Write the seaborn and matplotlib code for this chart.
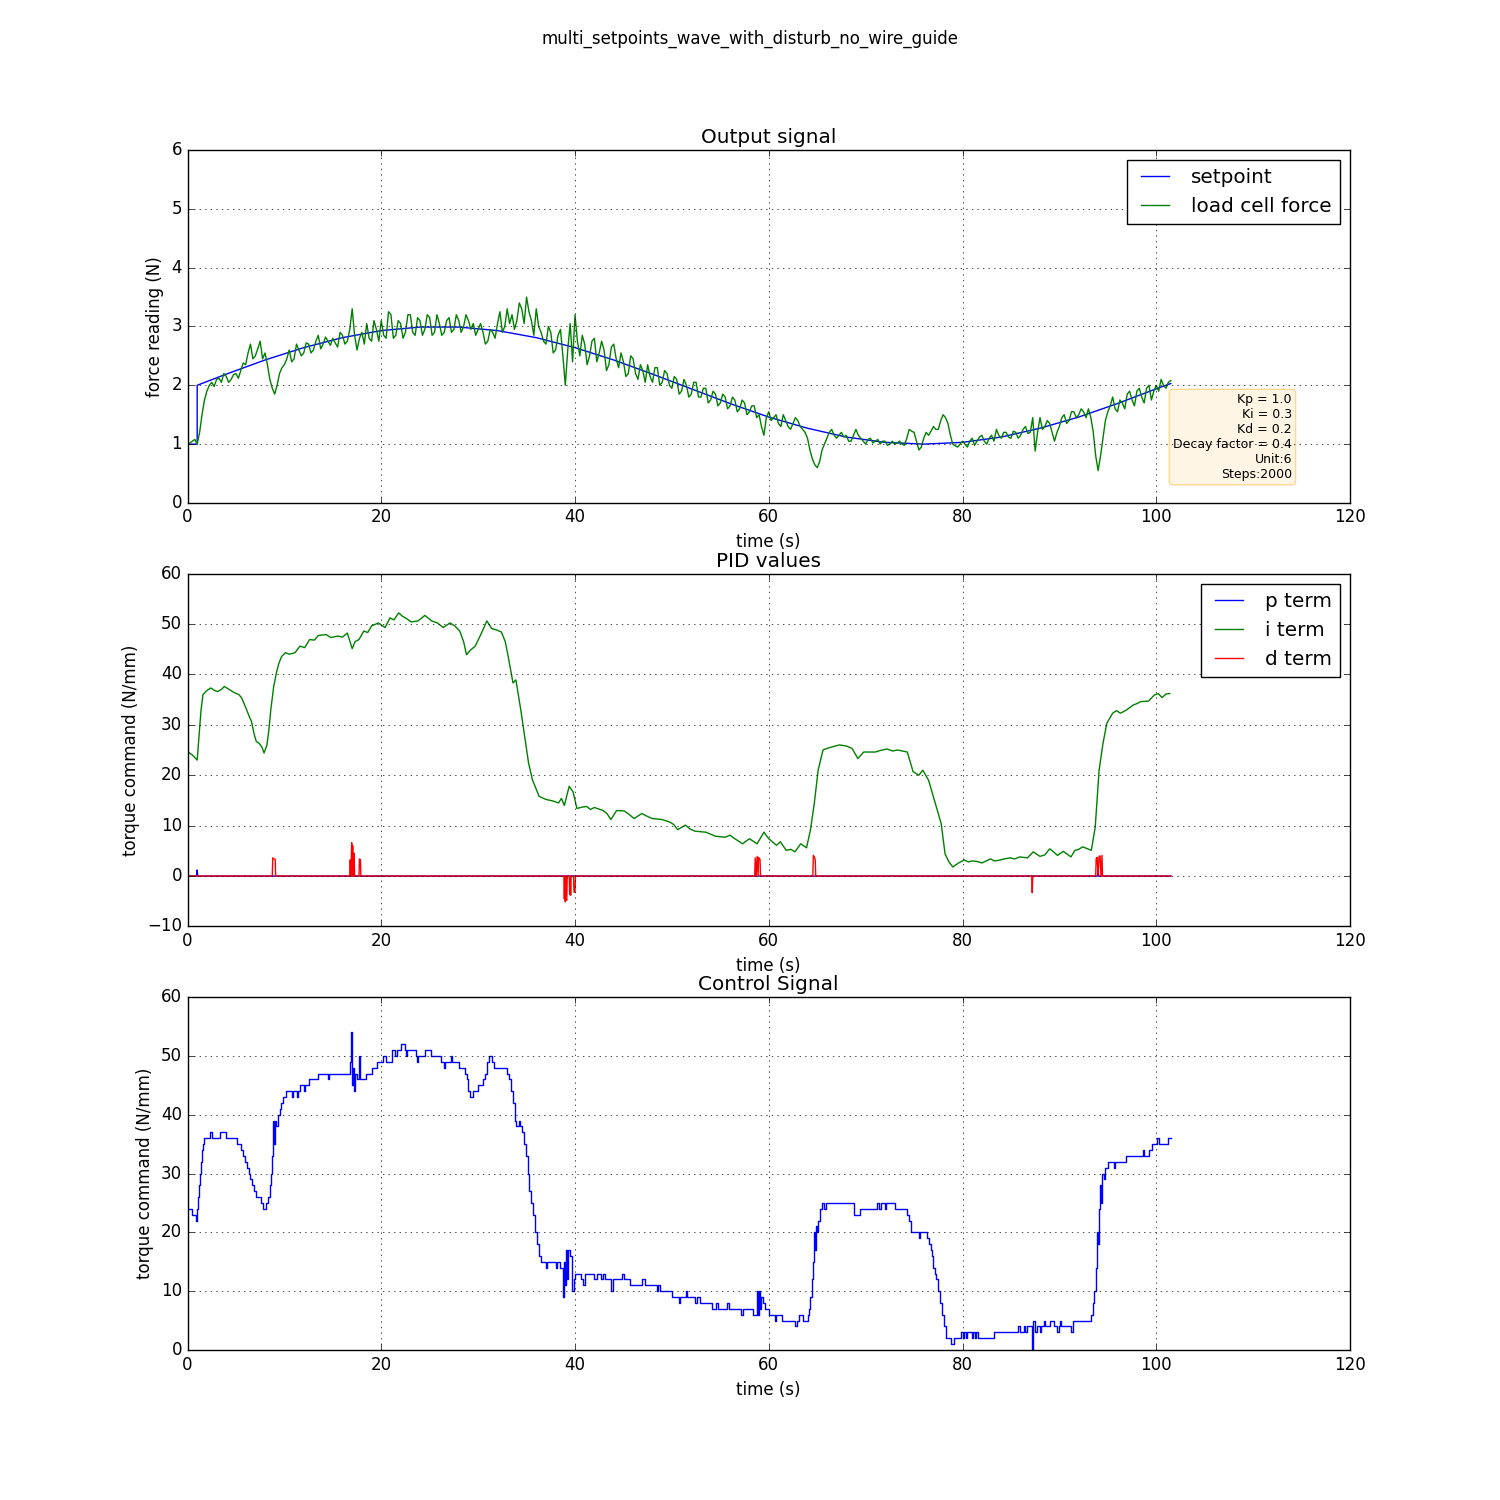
import numpy as np
import matplotlib
matplotlib.use("Agg")
import matplotlib.pyplot as plt
import seaborn as sns

# ---- data ----
# setpoint (N): (time, value)
setpoint_time = [0.0, 1.0, 1.0, 4, 8, 12, 16, 20, 24, 28, 32, 36, 40, 44, 48, 52,
                 56, 60, 64, 68, 72, 76, 80, 84, 88, 92, 96, 100, 101.5]
setpoint_vals = [1.0, 1.0, 2.0, 2.19, 2.43, 2.64, 2.81, 2.93, 2.99, 2.99, 2.93, 2.81,
                 2.64, 2.43, 2.19, 1.94, 1.69, 1.46, 1.27, 1.12, 1.03, 1.00, 1.03,
                 1.12, 1.27, 1.46, 1.69, 1.94, 2.03]

# load cell force (N), sampled every 0.25 s from t = 0 (one row = 5 s)
force_step = 0.25
load_force = [
    1.0, 1.02, 1.05, 1.08, 1.0, 1.2, 1.5, 1.75, 1.9, 2.0, 2.05, 1.98, 2.1, 2.12, 2.05, 2.2, 2.15, 2.05, 2.1, 2.18,
    2.2, 2.12, 2.25, 2.38, 2.35, 2.55, 2.7, 2.45, 2.5, 2.62, 2.75, 2.45, 2.55, 2.35, 2.1, 1.95, 1.85, 2.0, 2.2, 2.3,
    2.35, 2.45, 2.6, 2.4, 2.45, 2.7, 2.6, 2.5, 2.55, 2.72, 2.7, 2.55, 2.6, 2.75, 2.85, 2.62, 2.7, 2.82, 2.75, 2.68,
    2.8, 2.72, 2.65, 2.9, 2.85, 2.7, 2.75, 2.95, 3.3, 2.85, 2.6, 2.8, 2.9, 2.7, 3.05, 2.8, 2.75, 3.1, 2.95, 2.75,
    3.1, 2.85, 2.8, 3.25, 3.2, 2.8, 2.85, 3.1, 3.05, 2.8, 2.9, 3.2, 3.2, 2.9, 2.85, 3.15, 3.1, 2.85, 2.95, 3.2,
    3.15, 2.85, 2.9, 3.2, 3.05, 2.85, 2.9, 3.1, 3.15, 2.9, 2.95, 3.2, 3.1, 2.9, 3.0, 3.2, 3.1, 2.95, 3.05, 2.85,
    2.95, 3.05, 2.9, 2.7, 2.75, 2.95, 2.9, 2.8, 3.05, 3.25, 2.9, 3.0, 3.3, 3.05, 3.2, 2.95, 3.1, 3.4, 3.3, 3.05,
    3.5, 3.25, 3.1, 2.85, 3.3, 3.0, 2.9, 2.75, 2.7, 3.0, 2.9, 2.55, 2.6, 2.85, 2.95, 2.5, 2.0, 2.6, 3.05, 2.4,
    3.2, 2.75, 2.5, 2.85, 2.7, 2.35, 2.5, 2.75, 2.8, 2.4, 2.55, 2.75, 2.6, 2.25, 2.35, 2.65, 2.7, 2.45, 2.3, 2.55,
    2.4, 2.15, 2.2, 2.5, 2.45, 2.2, 2.1, 2.35, 2.25, 2.05, 2.35, 2.15, 2.05, 2.3, 2.3, 2.0, 2.05, 2.25, 2.2, 2.0,
    1.95, 2.15, 2.1, 1.85, 1.9, 2.1, 2.0, 1.8, 1.85, 2.05, 2.05, 1.8, 1.8, 1.95, 1.95, 1.7, 1.75, 1.9, 1.85, 1.65,
    1.7, 1.85, 1.8, 1.6, 1.65, 1.8, 1.75, 1.55, 1.6, 1.75, 1.7, 1.5, 1.55, 1.65, 1.65, 1.45, 1.5, 1.3, 1.15, 1.45,
    1.55, 1.4, 1.45, 1.5, 1.35, 1.3, 1.5, 1.4, 1.3, 1.25, 1.35, 1.45, 1.4, 1.3, 1.25, 1.2, 1.1, 0.9, 0.75, 0.65,
    0.6, 0.7, 0.9, 1.0, 1.1, 1.2, 1.25, 1.15, 1.1, 1.15, 1.2, 1.12, 1.15, 1.05, 1.05, 1.15, 1.25, 1.15, 1.1, 1.05,
    1.0, 1.08, 1.1, 1.02, 1.05, 1.08, 1.0, 1.05, 1.05, 0.98, 1.0, 1.05, 1.0, 1.02, 1.05, 1.0, 0.98, 1.1, 1.25, 1.22,
    1.2, 1.05, 0.9, 0.95, 1.1, 1.2, 1.15, 1.22, 1.3, 1.25, 1.25, 1.4, 1.5, 1.45, 1.35, 1.15, 1.0, 0.97, 0.95, 1.0,
    1.05, 1.0, 0.95, 1.05, 1.1, 0.98, 1.05, 1.12, 1.15, 1.05, 1.0, 1.1, 1.15, 1.05, 1.25, 1.15, 1.1, 1.2, 1.2, 1.12,
    1.1, 1.22, 1.2, 1.1, 1.15, 1.25, 1.3, 1.18, 1.2, 1.45, 0.88, 1.2, 1.45, 1.25, 1.3, 1.4, 1.35, 1.2, 1.05, 1.2,
    1.3, 1.45, 1.5, 1.35, 1.4, 1.55, 1.55, 1.45, 1.5, 1.6, 1.55, 1.45, 1.6, 1.45, 1.2, 0.8, 0.55, 0.8, 1.1, 1.4,
    1.55, 1.65, 1.8, 1.6, 1.55, 1.75, 1.7, 1.6, 1.85, 1.9, 1.75, 1.65, 1.9, 1.95, 1.8, 1.7, 1.95, 2.0, 1.75, 1.9,
    2.0, 1.9, 2.1, 2.0, 1.95, 2.05, 2.08,
]

# PID terms: (time, value)
p_term_pts = [(0.0, 0), (0.95, 0), (1.0, 1.2), (1.05, 0), (93.95, 0), (94.0, 1.1),
              (94.05, 0), (101.5, 0)]

i_term_pts = [
    (0.0, 24.7), (0.5, 24.0), (1.0, 23.0), (1.2, 28), (1.4, 33), (1.6, 36), (2.0, 36.8),
    (2.4, 37.3), (2.8, 36.8), (3.1, 36.6), (3.5, 37.0), (3.8, 37.6), (4.3, 37.0),
    (4.9, 36.3), (5.3, 36.0), (5.6, 35.3), (6.1, 33), (6.4, 31.5), (6.6, 30.7),
    (6.9, 28.0), (7.1, 26.7), (7.4, 26.3), (7.7, 25.5), (7.9, 24.4), (8.2, 26.0),
    (8.4, 29), (8.6, 33), (8.9, 37.6), (9.2, 40.5), (9.4, 42), (9.7, 43.5), (10.1, 44.3),
    (10.5, 44.0), (11.1, 44.3), (11.6, 45.6), (12.1, 45.3), (12.6, 46.9), (13.1, 46.8),
    (13.5, 47.7), (14.3, 47.9), (14.8, 47.3), (15.5, 47.6), (16.0, 47.4), (16.5, 48.2),
    (17.0, 45.1), (17.3, 46.5), (17.7, 46.9), (18.2, 48.6), (18.6, 48.3), (19.0, 49.6),
    (19.7, 50.2), (20.0, 49.8), (20.4, 49.3), (20.9, 51.2), (21.3, 50.8), (21.8, 52.2),
    (22.2, 51.5), (22.5, 51.2), (23.1, 50.4), (23.8, 50.6), (24.5, 51.7), (25.2, 50.6),
    (25.8, 50.2), (26.4, 49.3), (27.1, 50.2), (27.6, 49.6), (28.1, 48.6), (28.5, 46.5),
    (28.8, 43.9), (29.2, 44.8), (29.7, 45.6), (30.3, 48.0), (30.9, 50.6), (31.4, 49.1),
    (31.9, 48.8), (32.4, 48.4), (32.8, 46.5), (33.1, 43.6), (33.6, 38.3), (33.9, 38.9),
    (34.4, 33), (34.9, 26.4), (35.2, 22.5), (35.6, 19.1), (36.3, 15.8), (37.0, 15.2),
    (37.7, 14.9), (38.3, 14.5), (38.6, 15.4), (38.9, 14.0), (39.4, 17.8), (39.8, 16.7),
    (40.2, 13.4), (40.8, 13.7), (41.2, 13.8), (41.6, 13.2), (42.0, 13.6), (42.9, 13.0),
    (43.3, 12.4), (43.7, 11.2), (44.3, 13.0), (45.1, 12.9), (45.6, 12.2), (46.1, 11.4),
    (46.9, 12.4), (47.5, 11.8), (48.0, 11.4), (49.0, 11.2), (49.8, 10.7), (50.2, 10.2),
    (50.6, 9.2), (51.4, 10.1), (51.9, 9.3), (52.4, 8.9), (53.5, 8.7), (54.0, 8.3),
    (54.5, 7.9), (55.5, 7.7), (56.0, 8.1), (56.5, 7.4), (57.3, 6.4), (58.0, 7.4),
    (58.8, 6.4), (59.5, 8.7), (60.0, 7.4), (60.8, 6.1), (61.2, 6.8), (61.8, 5.1),
    (62.3, 5.3), (62.7, 4.8), (63.3, 6.4), (63.9, 5.6), (64.3, 9.1), (64.7, 14.4),
    (65.1, 21.0), (65.6, 25.0), (66.0, 25.3), (66.5, 25.6), (67.3, 26.0), (68.0, 25.8),
    (68.6, 25.3), (69.2, 23.3), (69.8, 24.6), (71.0, 24.6), (71.5, 24.9), (72.2, 25.2),
    (72.8, 24.8), (73.3, 25.0), (74.3, 24.6), (74.9, 20.7), (75.5, 20.0), (75.9, 21.0),
    (76.5, 19.0), (77.1, 15.0), (77.8, 10.4), (78.2, 4.4), (78.6, 2.8), (79.0, 1.8),
    (79.6, 2.6), (80.2, 3.2), (80.6, 2.8), (81.0, 3.0), (81.5, 2.9), (82.0, 2.6),
    (82.9, 3.4), (83.3, 3.0), (83.7, 3.1), (84.3, 3.4), (84.9, 3.6), (85.4, 3.4),
    (85.9, 3.8), (86.7, 3.6), (87.3, 4.8), (88.0, 3.9), (88.5, 4.2), (89.0, 5.4),
    (89.4, 4.8), (89.8, 4.1), (90.4, 4.9), (91.2, 3.8), (91.6, 5.1), (92.0, 5.3),
    (92.4, 5.8), (93.3, 5.1), (93.7, 9.7), (94.1, 21.0), (94.5, 26.3), (94.9, 30.3),
    (95.5, 32.3), (95.9, 32.8), (96.3, 32.3), (96.9, 32.9), (97.6, 33.9), (98.0, 34.2),
    (98.4, 34.6), (99.2, 34.7), (99.8, 35.9), (100.2, 36.2), (100.6, 35.4), (101.0, 36.1),
    (101.4, 36.2),
]

d_term_pts = [
    (0.0, 0), (8.75, 0), (8.8, 3.6), (8.95, 3.4), (9.05, 3.3), (9.1, 0),
    (16.75, 0), (16.8, 3.2), (16.85, 0), (16.9, 3.0), (16.95, 6.6), (17.0, 0),
    (17.05, 6.0), (17.1, 0), (17.15, 4.6), (17.2, 4.4), (17.25, 0), (17.7, 0),
    (17.75, 3.4), (17.85, 3.2), (17.9, 0),
    (38.85, 0), (38.9, -4.5), (38.95, 0), (39.0, -5.1), (39.05, 0), (39.1, -4.6),
    (39.15, -4.8), (39.2, 0), (39.4, 0), (39.45, -3.6), (39.5, 0), (39.55, -3.8),
    (39.6, 0), (39.85, 0), (39.9, -3.2), (40.0, -3.2), (40.05, 0),
    (58.55, 0), (58.6, 3.6), (58.7, 0), (58.8, 3.9), (58.9, 0), (58.95, 3.7),
    (59.0, 3.5), (59.1, 3.3), (59.15, 0),
    (64.55, 0), (64.6, 4.1), (64.7, 3.8), (64.8, 3.2), (64.85, 0),
    (87.15, 0), (87.2, -3.3), (87.25, 0),
    (93.75, 0), (93.8, 3.5), (93.9, 3.7), (94.0, 0), (94.1, 3.9), (94.2, 4.0),
    (94.3, 0), (94.4, 4.1), (94.45, 0), (101.5, 0),
]

# control signal (integer torque command), held until next point
control_pts = [
    (0.0, 24), (0.5, 23), (0.9, 22), (1.0, 24), (1.1, 26), (1.2, 28), (1.3, 30), (1.4, 32),
    (1.5, 34), (1.6, 35), (1.7, 36), (2.35, 37), (2.5, 36), (3.35, 37), (4.0, 36), (5.1, 35),
    (5.5, 34), (5.7, 33), (5.9, 32), (6.1, 31), (6.3, 30), (6.5, 29), (6.7, 28), (6.9, 27),
    (7.1, 26), (7.6, 25), (7.8, 24), (8.1, 25), (8.3, 26), (8.5, 28), (8.65, 30), (8.75, 33),
    (8.85, 39), (8.95, 35), (9.05, 39), (9.15, 38), (9.3, 40), (9.5, 41), (9.7, 42), (9.9, 43),
    (10.2, 44), (10.8, 43), (10.9, 44), (11.3, 43), (11.4, 44), (11.6, 45), (12.0, 44),
    (12.1, 45), (12.5, 46), (13.5, 47), (14.5, 46), (14.6, 47), (16.8, 49), (16.9, 54),
    (17.0, 45), (17.1, 48), (17.2, 44), (17.3, 47), (17.5, 46), (17.75, 50), (17.85, 46),
    (18.4, 47), (19.0, 48), (19.6, 49), (20.2, 50), (20.5, 49), (21.1, 51), (21.4, 50),
    (21.6, 51), (22.0, 52), (22.4, 51), (22.6, 50), (22.7, 51), (23.6, 50), (23.7, 49),
    (23.8, 50), (24.5, 51), (25.1, 50), (26.2, 49), (26.5, 48), (26.6, 49), (27.2, 50),
    (27.35, 49), (28.0, 48), (28.6, 47), (28.8, 46), (28.95, 44), (29.2, 43), (29.5, 44),
    (30.0, 45), (30.5, 46), (30.7, 47), (30.9, 49), (31.1, 50), (31.4, 49), (31.6, 48),
    (33.0, 47), (33.15, 46), (33.35, 44), (33.6, 42), (33.85, 39), (33.95, 38), (34.2, 39),
    (34.3, 38), (34.5, 37), (34.7, 35), (34.9, 33), (35.1, 30), (35.3, 27), (35.5, 25),
    (35.7, 23), (35.9, 20), (36.1, 18), (36.3, 16), (36.5, 15), (37.0, 14), (37.1, 15),
    (38.0, 14), (38.1, 15), (38.5, 14), (38.8, 9), (38.9, 15), (39.0, 11), (39.1, 17),
    (39.2, 12), (39.3, 17), (39.5, 16), (39.7, 10), (39.85, 12), (40.0, 13), (40.6, 12),
    (40.8, 11), (41.0, 13), (42.0, 12), (42.3, 13), (42.7, 12), (42.9, 13), (43.1, 12),
    (43.7, 10), (43.9, 12), (44.9, 13), (45.05, 12), (45.7, 11), (46.9, 12), (47.2, 11),
    (48.5, 10), (48.6, 11), (48.8, 10), (50.0, 9), (50.7, 8), (50.85, 9), (51.5, 10),
    (51.6, 9), (52.4, 8), (52.6, 9), (52.9, 8), (54.1, 7), (54.6, 8), (54.8, 7), (55.7, 8),
    (55.9, 7), (57.1, 6), (57.3, 7), (58.4, 6), (58.8, 10), (58.9, 6), (59.0, 10),
    (59.1, 7), (59.2, 9), (59.4, 8), (59.6, 7), (60.0, 6), (60.6, 5), (60.75, 6),
    (61.4, 5), (62.7, 4), (62.9, 5), (63.1, 6), (63.5, 5), (64.0, 6), (64.2, 7), (64.3, 9),
    (64.45, 12), (64.6, 15), (64.7, 20), (64.8, 17), (64.9, 21), (65.0, 20), (65.1, 22),
    (65.3, 24), (65.5, 25), (65.7, 24), (65.9, 25), (68.8, 23), (69.4, 24), (71.2, 25),
    (71.4, 24), (71.6, 25), (71.95, 24), (72.1, 25), (73.0, 24), (74.3, 23), (74.5, 22),
    (74.7, 20), (75.5, 19), (75.65, 20), (76.3, 19), (76.5, 18), (76.7, 17), (76.8, 16),
    (77.0, 14), (77.2, 13), (77.3, 12), (77.5, 10), (77.7, 8), (77.9, 6), (78.1, 4),
    (78.3, 2), (78.8, 1), (79.1, 2), (79.8, 3), (80.1, 2), (80.2, 3), (80.4, 2), (80.5, 3),
    (81.0, 2), (81.1, 3), (81.3, 2), (81.4, 3), (81.6, 2), (83.3, 3), (85.7, 4), (85.9, 3),
    (86.3, 4), (86.4, 3), (86.7, 4), (87.2, 0), (87.3, 5), (87.5, 3), (87.7, 4), (88.0, 3),
    (88.1, 4), (88.4, 5), (88.5, 4), (89.0, 5), (89.4, 4), (89.8, 3), (89.95, 4), (90.1, 5),
    (90.2, 4), (91.2, 3), (91.4, 5), (93.3, 6), (93.5, 8), (93.6, 10), (93.8, 14),
    (93.9, 20), (94.0, 18), (94.1, 24), (94.2, 28), (94.3, 25), (94.45, 30), (94.6, 29),
    (94.7, 31), (95.0, 32), (95.6, 31), (95.75, 32), (96.9, 33), (98.6, 34), (98.75, 33),
    (99.2, 34), (99.6, 35), (100.1, 36), (100.3, 35), (101.2, 36), (101.5, 36),
]

fig_title = "multi_setpoints_wave_with_disturb_no_wire_guide"
gains_text = "Kp = 1.0\nKi = 0.3\nKd = 0.2\nDecay factor = 0.4\nUnit:6\nSteps:2000"

# ---- style: old matplotlib look ----
plt.style.use("classic")
plt.rcParams["font.family"] = ["DejaVu Sans"]
plt.rcParams["figure.facecolor"] = "white"


def unpack(points):
    arr = np.array(points, dtype=float)
    return arr[:, 0], arr[:, 1]


force_time = np.arange(len(load_force)) * force_step
p_t, p_v = unpack(p_term_pts)
i_t, i_v = unpack(i_term_pts)
d_t, d_v = unpack(d_term_pts)
c_t, c_v = unpack(control_pts)

fig, axes = plt.subplots(3, 1, figsize=(15, 15), dpi=100)
fig.suptitle(fig_title, fontsize=12)

# Output signal
ax = axes[0]
sns.lineplot(x=setpoint_time, y=setpoint_vals, ax=ax, color="b", label="setpoint",
             estimator=None, sort=False, linewidth=1)
sns.lineplot(x=force_time, y=load_force, ax=ax, color="g", label="load cell force",
             estimator=None, sort=False, linewidth=1)
ax.set_title("Output signal")
ax.set_xlabel("time (s)")
ax.set_ylabel("force reading (N)")
ax.set_xlim(0, 120)
ax.set_ylim(0, 6)
ax.grid(True)
ax.legend(loc="upper right")
ax.text(0.95, 0.062, gains_text, transform=ax.transAxes, fontsize=9,
        ha="right", va="bottom",
        bbox=dict(boxstyle="round", facecolor=(1, 0.65, 0, 0.1),
                  edgecolor=(1, 0.65, 0, 0.4)))

# PID values
ax = axes[1]
sns.lineplot(x=p_t, y=p_v, ax=ax, color="b", label="p term",
             estimator=None, sort=False, linewidth=1)
sns.lineplot(x=i_t, y=i_v, ax=ax, color="g", label="i term",
             estimator=None, sort=False, linewidth=1)
sns.lineplot(x=d_t, y=d_v, ax=ax, color="r", label="d term",
             estimator=None, sort=False, linewidth=1)
ax.set_title("PID values")
ax.set_xlabel("time (s)")
ax.set_ylabel("torque command (N/mm)")
ax.set_xlim(0, 120)
ax.set_ylim(-10, 60)
ax.grid(True)
ax.legend(loc="upper right")

# Control signal
ax = axes[2]
sns.lineplot(x=c_t, y=c_v, ax=ax, color="b", estimator=None, sort=False,
             linewidth=1, drawstyle="steps-post")
ax.set_title("Control Signal")
ax.set_xlabel("time (s)")
ax.set_ylabel("torque command (N/mm)")
ax.set_xlim(0, 120)
ax.set_ylim(0, 60)
ax.grid(True)

fig.savefig("out.png", dpi=100, facecolor="white")
